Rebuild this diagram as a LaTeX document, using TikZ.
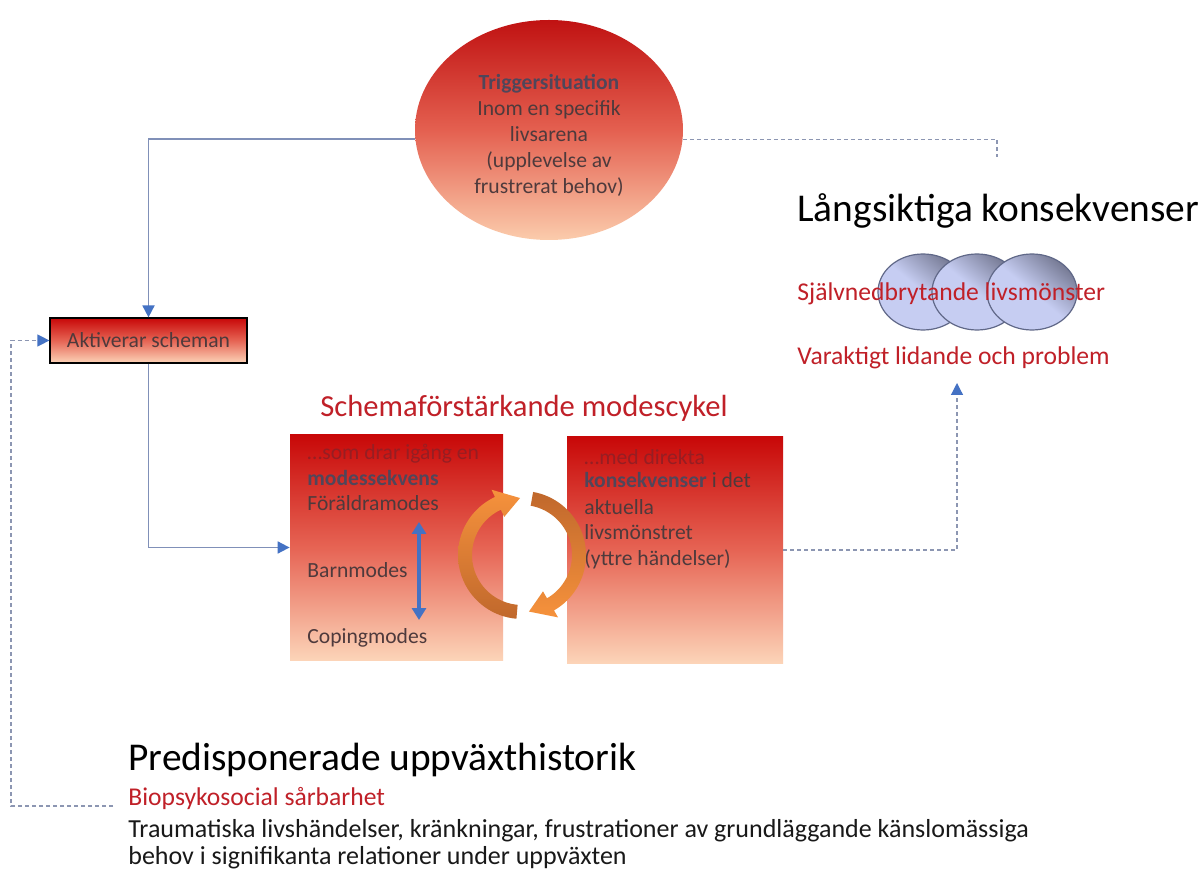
\documentclass[tikz,border=0pt]{standalone}
\usepackage{fontspec}
\setmainfont{Carlito}
\usetikzlibrary{arrows.meta,shapes.geometric,calc}

\definecolor{boxtop}{RGB}{200,8,8}
\definecolor{boxmid}{RGB}{230,100,84}
\definecolor{boxbot}{RGB}{252,212,184}
\definecolor{circtop}{RGB}{192,18,18}
\definecolor{circmid}{RGB}{228,96,80}
\definecolor{circbot}{RGB}{251,204,172}
\definecolor{linkblue}{RGB}{128,144,184}
\definecolor{tipblue}{RGB}{68,114,196}
\definecolor{dashgray}{RGB}{140,150,178}
\definecolor{titlered}{RGB}{192,32,40}
\definecolor{bodytxt}{RGB}{78,58,60}
\definecolor{boldtxt}{RGB}{80,70,90}
\definecolor{fadedred}{RGB}{150,30,35}
\definecolor{orangelight}{RGB}{246,146,60}
\definecolor{orangedark}{RGB}{192,104,44}
\definecolor{ovalfill}{RGB}{198,205,242}
\definecolor{ovaldark}{RGB}{118,122,148}
\definecolor{ovalline}{RGB}{96,104,136}

\begin{document}
\begin{tikzpicture}[x=0.5pt,y=-0.5pt,
  redbox/.style={rectangle, inner sep=0pt, top color=boxtop, bottom color=boxbot, middle color=boxmid},
  link/.style={draw=linkblue, line width=0.9pt, -{Triangle[length=6pt,width=6pt,color=tipblue]}},
  dline/.style={draw=dashgray, line width=0.6pt, dash pattern=on 2pt off 1.5pt},
  dlink/.style={dline, -{Triangle[length=6pt,width=6pt,color=tipblue]}},
  boxtext/.style={anchor=base west, inner sep=0pt, font=\fontsize{10.8}{13}\selectfont, text=bodytxt},
  bigtitle/.style={anchor=base west, inner sep=0pt, font=\fontsize{19.7}{24}\selectfont, text=black},
  redline/.style={anchor=base west, inner sep=0pt, font=\fontsize{12.8}{15}\selectfont, text=titlered},
  plain/.style={anchor=base west, inner sep=0pt, font=\fontsize{13}{15}\selectfont, text=black!90},
  ovalnode/.style={ellipse, inner sep=0pt, minimum width=45pt, minimum height=38pt, draw=ovalline, line width=0.6pt,
    top color=ovaldark, bottom color=ovalfill, middle color=ovalfill, shading angle=-40},
  dblarrow/.style={draw=tipblue, line width=2pt, {Triangle[length=6pt,width=7pt]}-{Triangle[length=6pt,width=7pt]}}
]
\useasboundingbox[fill=white] (0,0) rectangle (1200,871);

% trigger situation
\node[ellipse, inner sep=0pt, minimum width=134pt, minimum height=110pt,
  top color=circtop, bottom color=circbot, middle color=circmid] (trig) at (549,130) {};
\node[align=center, inner sep=0pt, font=\fontsize{10.8}{13}\selectfont, text=bodytxt] (trigtxt) at (549,135)
  {\textcolor{boldtxt}{\textbf{Triggersituation}}\\Inom en specifik\\livsarena\\(upplevelse av\\frustrerat behov)};

% activation box
\node[redbox, draw=black, line width=0.6pt, minimum width=98.5pt, minimum height=22.5pt,
  font=\fontsize{10.8}{12}\selectfont, text=bodytxt] (akt) at (148.5,340.5) {Aktiverar scheman};

% mode cycle
\node[anchor=base west, inner sep=0pt, font=\fontsize{15.3}{18}\selectfont, text=titlered] (cyc) at (320,417) {Schemaförstärkande modescykel};
\node[redbox, minimum width=106.5pt, minimum height=112.5pt] (lbox) at (396.5,547.5) {};
\node[redbox, minimum width=108pt, minimum height=113pt] (rbox) at (675,550) {};

\node[boxtext, text=fadedred] (l1) at (307,460) {…som drar igång en};
\node[boxtext, text=boldtxt] (l2) at (307,486) {\textbf{modessekvens}};
\node[boxtext] (l3) at (307,511) {Föräldramodes};
\node[boxtext] (l4) at (307,578) {Barnmodes};
\node[boxtext] (l5) at (307,643) {Copingmodes};

\node[boxtext, text=fadedred] (r1) at (584,465) {…med direkta};
\node[boxtext] (r2) at (584,488) {\textcolor{boldtxt}{\textbf{konsekvenser}} i det};
\node[boxtext] (r3) at (584,515) {aktuella};
\node[boxtext] (r4) at (584,540) {livsmönstret};
\node[boxtext] (r5) at (584,566) {(yttre händelser)};

\coordinate (da1) at (419,522);
\coordinate (da2) at (419,620);
\draw[dblarrow] (da1) -- (da2);

% circular arrows between the boxes
\shade[top color=orangelight, bottom color=orangedark]
  plot[domain=95:245, samples=40] ({522+64*cos(\x)},{555+64*sin(\x)})
  -- ({522+72*cos(245)},{555+72*sin(245)})
  -- ({522+57*cos(268)},{555+57*sin(268)})
  -- ({522+42*cos(245)},{555+42*sin(245)})
  -- plot[domain=245:95, samples=40] ({522+50*cos(\x)},{555+50*sin(\x)}) -- cycle;
\shade[top color=orangedark, bottom color=orangelight]
  plot[domain=280:420, samples=40] ({522+64*cos(\x)},{555+64*sin(\x)})
  -- ({522+72*cos(420)},{555+72*sin(420)})
  -- ({522+57*cos(443)},{555+57*sin(443)})
  -- ({522+42*cos(420)},{555+42*sin(420)})
  -- plot[domain=420:280, samples=40] ({522+50*cos(\x)},{555+50*sin(\x)}) -- cycle;

% long-term consequences
\node[bigtitle] (lang) at (797,222) {Långsiktiga konsekvenser};
\node[ovalnode] (o1) at (923,292) {};
\node[ovalnode] (o2) at (977,292) {};
\node[ovalnode] (o3) at (1032,292) {};
\node[redline] (sjalv) at (797,301) {Självnedbrytande livsmönster};
\node[redline] (var) at (797,365) {Varaktigt lidande och problem};

% predisposing history
\node[bigtitle] (pred) at (128,770) {Predisponerade uppväxthistorik};
\node[redline] (bio) at (128,805) {Biopsykosocial sårbarhet};
\node[plain] (trau) at (128,837) {Traumatiska livshändelser, kränkningar, frustrationer av grundläggande känslomässiga};
\node[plain] (beh) at (128,864) {behov i signifikanta relationer under uppväxten};

% connectors
\coordinate (ltop) at (997,157);
\coordinate (ltarget) at (957,383);
\coordinate (bstart) at (113,806);
\coordinate (bcorner) at (11,806);

\draw[link] (trig.184) -| (akt.north);
\draw[link] (akt.south) |- (lbox.west);
\draw[dline] (trig.356) -| (ltop);
\draw[dlink] (rbox.east) -| (ltarget);
\draw[dlink] (bstart) -- (bcorner) |- (akt.west);
\end{tikzpicture}
\end{document}
